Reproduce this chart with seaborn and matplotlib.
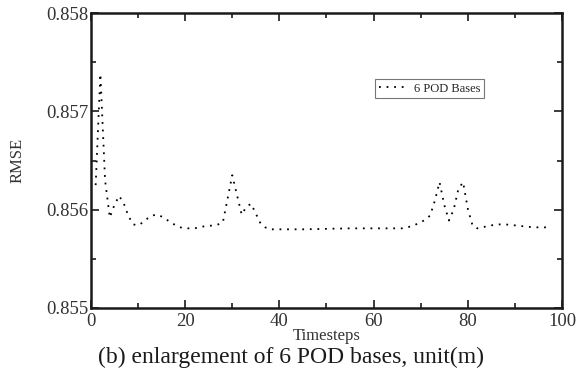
import matplotlib
matplotlib.use("Agg")
import matplotlib.pyplot as plt
import seaborn as sns
import pandas as pd
from matplotlib.ticker import MultipleLocator, FormatStrFormatter

# Data (vertices)
timesteps = [1, 2, 3, 4, 5, 6, 7, 8, 9, 10, 11, 12, 13, 14, 15, 16, 17, 18, 19, 20,
             22, 24, 26, 27, 28, 29, 30, 31, 32, 33, 34, 35, 36, 37, 38,
             45, 55, 62, 66, 68, 70, 71, 72, 73, 74, 75, 76, 77, 78, 79, 80, 81,
             82, 84, 86, 88, 90, 92, 94, 97]
rmse = [0.85625, 0.85738, 0.85630, 0.85592, 0.85605, 0.85614, 0.85606, 0.85593, 0.85585, 0.85584,
        0.85587, 0.85591, 0.85594, 0.85595, 0.85593, 0.85590, 0.85587, 0.85584, 0.85582, 0.85581,
        0.85581, 0.85583, 0.85584, 0.85585, 0.85587, 0.85611, 0.85635, 0.85615, 0.85595, 0.85603,
        0.85606, 0.85596, 0.85586, 0.85582, 0.85580,
        0.85580, 0.85581, 0.85581, 0.85581, 0.85583, 0.85587, 0.85590, 0.85594, 0.85609, 0.85628,
        0.85605, 0.85589, 0.85600, 0.85621, 0.85628, 0.85601, 0.85584,
        0.85581, 0.85583, 0.85585, 0.85585, 0.85584, 0.85583, 0.85582, 0.85582]
series_name = "6 POD Bases"
x_label = "Timesteps"
y_label = "RMSE"
caption = "(b) enlargement of 6 POD bases, unit(m)"

df = pd.DataFrame({"Timesteps": timesteps, "RMSE": rmse})

sns.set_style("ticks")
plt.rcParams["font.family"] = ["Liberation Serif", "DejaVu Serif"]

fig = plt.figure(figsize=(5.83, 3.84), dpi=100)
ax = fig.add_axes([0.156, 0.198, 0.808, 0.768])

sns.lineplot(data=df, x="Timesteps", y="RMSE", ax=ax, color="black",
             linewidth=1.3, linestyle=(0, (1, 3.2)), label=series_name)

ax.set_xlim(0, 100)
ax.set_ylim(0.855, 0.858)
ax.xaxis.set_major_locator(MultipleLocator(20))
ax.xaxis.set_minor_locator(MultipleLocator(10))
ax.yaxis.set_major_locator(MultipleLocator(0.001))
ax.yaxis.set_minor_locator(MultipleLocator(0.0005))
ax.yaxis.set_major_formatter(FormatStrFormatter("%.3f"))

for s in ax.spines.values():
    s.set_visible(True)
    s.set_linewidth(1.8)
    s.set_color("#1a1a1a")

ax.tick_params(which="both", direction="in", top=True, right=True, colors="#1a1a1a",
               labelcolor="#333333")
ax.tick_params(which="major", length=6, width=1.2, labelsize=13.5)
ax.tick_params(axis="x", which="major", pad=3.5)
ax.tick_params(axis="y", which="major", pad=2)
ax.tick_params(which="minor", length=3.6, width=1.2)

ax.set_xlabel(x_label, fontsize=12, labelpad=-1, color="#333333")
ax.set_ylabel(y_label, fontsize=12, labelpad=15, color="#333333")

leg = ax.legend(loc="upper left", bbox_to_anchor=(0.603, 0.777), fontsize=9,
                frameon=True, fancybox=False, edgecolor="#555555",
                borderpad=0.3, handlelength=2.0, borderaxespad=0)
leg.get_frame().set_linewidth(0.8)

fig.text(0.5, 0.068, caption, ha="center", va="center", fontsize=17, color="#1a1a1a")

fig.savefig("out.png", dpi=100)
